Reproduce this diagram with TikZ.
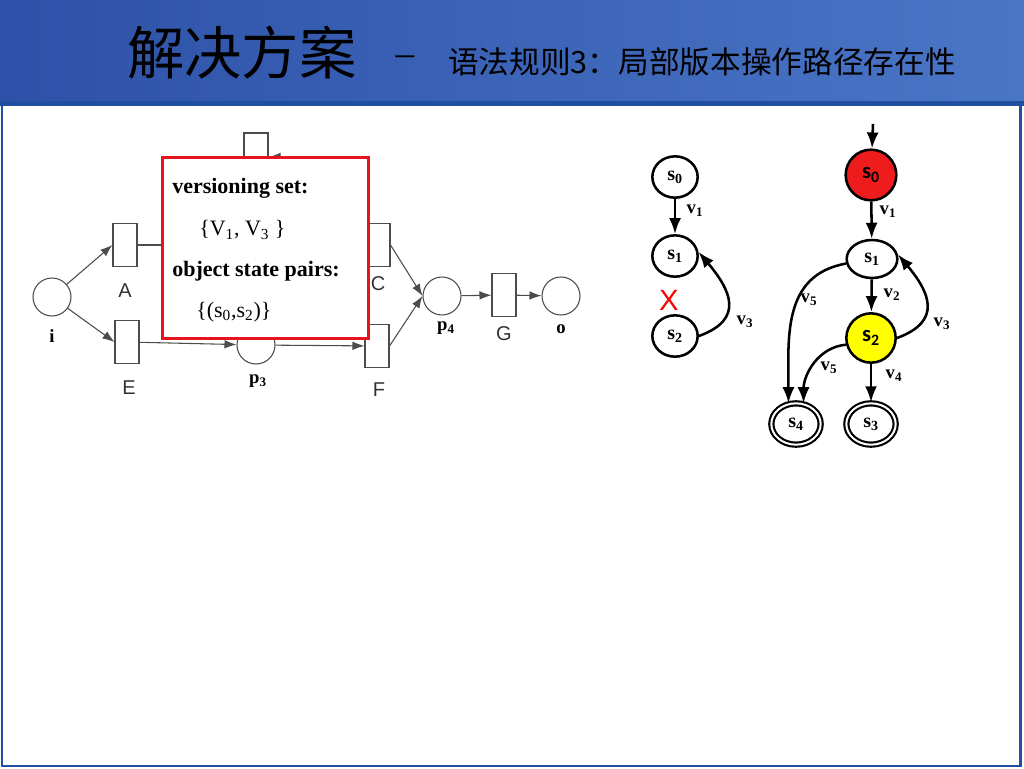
\documentclass[tikz,border=0pt]{standalone}
\usepackage{fontspec}
\setmainfont{Liberation Serif}
\newfontfamily\cjkfont{Noto Sans CJK SC}
\newfontfamily\petrifont{Liberation Sans}
\newfontfamily\calfont{Carlito}
\usetikzlibrary{shapes.geometric, arrows.meta}
\definecolor{headblue}{HTML}{2D51A8}
\definecolor{headlight}{HTML}{4A76C6}
\definecolor{frameblue}{HTML}{1F4F9E}
\definecolor{boxred}{HTML}{E8141B}
\definecolor{statered}{HTML}{EE1C1C}
\definecolor{stateyellow}{HTML}{FFFF00}
\tikzstyle{pline} = [draw=black!70, line width=0.8pt]
\tikzstyle{parrow} = [pline, -{Latex[length=9pt,width=6.5pt]}]
\tikzstyle{place} = [circle, draw=black!70, line width=0.8pt, minimum size=28.5pt, inner sep=0pt]
\tikzstyle{transition} = [rectangle, draw=black!70, line width=0.8pt, minimum width=18pt, minimum height=32pt, inner sep=0pt, fill=white]
\tikzstyle{tlabel} = [font=\petrifont\fontsize{15}{15}\selectfont, text=black!80]
\tikzstyle{plabel} = [font=\bfseries\fontsize{14}{14}\selectfont]
\tikzstyle{state} = [ellipse, draw=black, line width=1.9pt, minimum width=34pt, minimum height=31pt, inner sep=0pt, fill=white, font=\bfseries\fontsize{15}{15}\selectfont]
\tikzstyle{final} = [state, double, double distance=1.5pt, line width=1.6pt, minimum width=37pt, minimum height=31pt]
\tikzstyle{colstate} = [state, circle, minimum size=38pt, font=\calfont\bfseries\fontsize{17}{17}\selectfont]
\tikzstyle{trans} = [draw=black, line width=1.9pt, -{Latex[length=12pt,width=9pt]}]
\tikzstyle{vlabel} = [font=\bfseries\fontsize{14}{14}\selectfont]
\tikzstyle{settext} = [anchor=west, inner sep=0pt, font=\fontsize{16.5}{16.5}\selectfont]

\begin{document}
\begin{tikzpicture}[x=0.75pt, y=-0.75pt]
\useasboundingbox (0,0) rectangle (1024,768);

% slide
\shade [left color=headblue, right color=headlight] (0,0) rectangle (1024,103);
\fill [frameblue] (0,101) rectangle (1024,106);
\draw [frameblue, line width=2pt] (2,104) -- (2,766) -- (1020.5,766) -- (1020.5,104);
\node (title) [anchor=west, inner sep=0pt, font=\cjkfont\fontsize{43}{43}\selectfont] at (127,53) {解决方案};
\node (dash) [inner sep=0pt, font=\fontsize{28}{28}\selectfont] at (405,61) {–};
\node (subtitle) [anchor=west, inner sep=0pt, font=\cjkfont\fontsize{23}{23}\selectfont] at (448,62) {语法规则3：局部版本操作路径存在性};

% petri net
\node (i) [place] at (52,297) {};
\node (A) [transition] at (125,245) {};
\node (E) [transition] at (127,342) {};
\node (top) [transition, minimum height=36pt] at (256,157) {};
\node (p3) [place] at (256,345) {};
\node (C) [transition] at (378,245) {};
\node (F) [transition] at (377,346) {};
\node (p4) [place] at (442,296) {};
\node (G) [transition] at (504,295) {};
\node (o) [place] at (561,296) {};

\node (li) [plabel, below of=i, node distance=29pt] {i};
\node (lA) [tlabel, below of=A, node distance=34.5pt] {A};
\node (lE) [tlabel, below of=E, node distance=34pt, xshift=1.5pt] {E};
\node (lp3) [plabel, below of=p3, node distance=27pt, xshift=1.5pt] {p\textsubscript{3}};
\node (lC) [tlabel, below of=C, node distance=29pt] {C};
\node (lF) [tlabel, below of=F, node distance=33pt, xshift=1.5pt] {F};
\node (lp4) [plabel, below of=p4, node distance=24pt, xshift=3pt] {p\textsubscript{4}};
\node (lG) [tlabel, below of=G, node distance=29pt] {G};
\node (lo) [plabel, below of=o, node distance=25pt] {o};

\coordinate (a_out) at (200,245);
\coordinate (l_top) at (198,175);
\coordinate (r_top) at (318,175);

\draw [parrow] (i) -- (A.west);
\draw [parrow] (i) -- (E.west);
\draw [pline] (A) -- (a_out);
\draw [parrow] (E) -- (p3);
\draw [parrow] (p3) -- (F);
\draw [parrow] (C.east) -- (p4.west);
\draw [parrow] (F.east) -- (p4.west);
\draw [parrow] (p4) -- (G);
\draw [parrow] (G) -- (o);
\draw [pline] (top.west) -| (l_top);
\draw [parrow] (r_top) |- (top.east);

% versioning box
\node (vbox) [rectangle, draw=boxred, line width=2.25pt, fill=white, minimum width=154.5pt, minimum height=135.75pt] at (265,247.5) {};
\node (vset) [settext, font=\bfseries\fontsize{16.5}{16.5}\selectfont] at (172,188) {versioning set:};
\node (vval) [settext] at (199,230) {\{V\textsubscript{1}, V\textsubscript{3} \}};
\node (opair) [settext, font=\bfseries\fontsize{16.5}{16.5}\selectfont] at (172,271) {object state pairs:};
\node (oval) [settext] at (196,312) {\{(s\textsubscript{0},s\textsubscript{2})\}};

% left state graph
\node (Ls0) [state] at (675,177) {s\textsubscript{0}};
\node (Ls1) [state] at (675,256) {s\textsubscript{1}};
\node (Ls2) [state] at (675,336) {s\textsubscript{2}};
\node (Lv1) [vlabel] at (695,211) {v\textsubscript{1}};
\node (Lv3) [vlabel] at (745,322) {v\textsubscript{3}};
\node (LX) [text=red, inner sep=0pt, font=\petrifont\fontsize{22}{22}\selectfont] at (669,300) {X};

\draw [trans] (Ls0) -- (Ls1);
\draw [trans] (Ls2.east) to [out=20, in=-50, looseness=1.5] (Ls1.10);

% right state graph
\coordinate (Rin) at (873,124);
\node (Rs0) [colstate, fill=statered] at (871,175) {s\textsubscript{0}};
\node (Rs1) [state, minimum width=38pt, minimum height=28.5pt] at (872,259) {s\textsubscript{1}};
\node (Rs2) [colstate, fill=stateyellow, minimum size=37pt] at (871,338) {s\textsubscript{2}};
\node (Rs4) [final] at (796,424) {s\textsubscript{4}};
\node (Rs3) [final] at (871,424) {s\textsubscript{3}};

\node (Rv1) [vlabel] at (888,212) {v\textsubscript{1}};
\node (Rv2) [vlabel] at (892,295) {v\textsubscript{2}};
\node (Rv3) [vlabel] at (942,324) {v\textsubscript{3}};
\node (Rv5a) [vlabel] at (809,300) {v\textsubscript{5}};
\node (Rv5b) [vlabel] at (829,368) {v\textsubscript{5}};
\node (Rv4) [vlabel] at (894,376) {v\textsubscript{4}};

\draw [trans] (Rin) -- (Rs0);
\draw [trans] (Rs0) -- (Rs1);
\draw [trans] (Rs1) -- (Rs2);
\draw [trans] (Rs2) -- (Rs3);
\draw [trans] (Rs2.east) to [out=20, in=-50, looseness=1.5] (Rs1.10);
\draw [trans] (Rs1.190) to [out=190, in=90, looseness=1.1] (Rs4.110);
\draw [trans] (Rs2.195) to [out=185, in=90] (Rs4.70);
\end{tikzpicture}
\end{document}
